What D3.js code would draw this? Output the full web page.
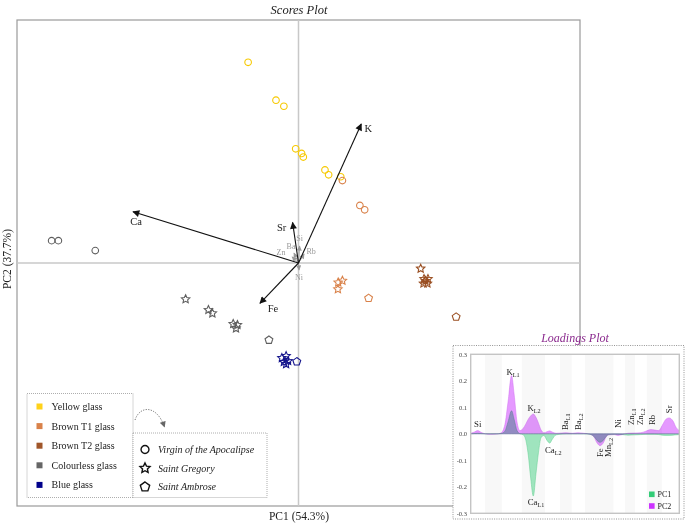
<!DOCTYPE html>
<html><head><meta charset="utf-8">
<script src="https://cdn.jsdelivr.net/npm/d3@7"></script>
<style>
body{margin:0;background:#fff;}
svg{display:block;font-family:"Liberation Serif","DejaVu Serif",serif;}
</style></head><body>
<svg id="c" width="685" height="523"></svg>
<script>
// ---------- DATA ----------
const glassTypes = ["Yellow glass","Brown T1 glass","Brown T2 glass","Colourless glass","Blue glass"];
const panels = ["Virgin of the Apocalipse","Saint Gregory","Saint Ambrose"];

// scores: glass type index, panel index, PC1, PC2
const scoreType  = [0,0,0,0,0,0,0,0,0, 1,1,1, 1,1,1, 1, 2,2,2,2,2,2, 2, 3,3,3, 3,3,3,3,3,3, 3, 4,4,4,4,4, 4];
const scorePanel = [0,0,0,0,0,0,0,0,0, 0,0,0, 1,1,1, 2, 1,1,1,1,1,1, 2, 0,0,0, 1,1,1,1,1,1, 2, 1,1,1,1,1, 2];
const scorePC1 = [-0.179,-0.080,-0.052,-0.010,0.011,0.017,0.094,0.107,0.150,
  0.156,0.218,0.235, 0.141,0.156,0.140, 0.249,
  0.434,0.446,0.460,0.444,0.458,0.451, 0.560,
  -0.877,-0.853,-0.722, -0.401,-0.320,-0.306,-0.232,-0.217,-0.222, -0.105,
  -0.059,-0.044,-0.052,-0.037,-0.044, -0.006];
const scorePC2 = [0.826,0.670,0.645,0.470,0.451,0.436,0.383,0.363,0.355,
  0.339,0.237,0.219, -0.080,-0.073,-0.108, -0.145,
  -0.023,-0.066,-0.066,-0.084,-0.084,-0.074, -0.222,
  0.092,0.092,0.051, -0.149,-0.193,-0.207,-0.251,-0.255,-0.269, -0.317,
  -0.391,-0.383,-0.407,-0.403,-0.416, -0.406];

// biplot loadings
const loadNames = ["Ca","K","Sr","Fe","Si","Ba","Rb","Zn","Ni"];
const loadPC1 = [-0.588,0.223,-0.021,-0.137,0.004,-0.016,0.020,-0.023,0.002];
const loadPC2 = [0.211,0.572,0.167,-0.166,0.070,0.041,0.037,0.025,-0.029];

// loadings spectrum (inset)
const channel = [0,1.6,3.4,4.9,6.9,9.3,12.6,14.5,16.4,17.9,19.6,20.8,22.2,23.6,25.1,26.3,27.6,28.8,30.0,31.3,32.5,33.7,35.1,36.6,37.9,39.0,40.9,43.8,45.7,48.6,51.4,54.3,57.2,59.1,60.6,62.0,63.5,64.9,66.3,68.7,70.6,72.6,75.4,78.7,81.6,84.0,86.4,88.3,90.2,91.7,93.6,95.1,97.0,98.4,100];
const specPC2 = [0.002,0.006,0.012,0.006,0.0,-0.002,-0.001,0.003,0.035,0.12,0.22,0.15,0.045,0.012,0.02,0.035,0.055,0.068,0.075,0.062,0.04,0.015,0.004,0.008,0.011,0.007,0.002,0.003,0.004,0.002,0.004,0.002,-0.002,-0.012,-0.035,-0.045,-0.035,-0.012,-0.004,-0.003,-0.006,-0.003,0.002,0.003,0.004,0.01,0.016,0.014,0.012,0.03,0.055,0.06,0.048,0.025,0.012];
const specPC1 = [0.0,0.001,0.002,0.001,0.0,0.0,0.0,0.001,0.01,0.045,0.087,0.055,0.012,0.0,-0.003,-0.02,-0.08,-0.17,-0.235,-0.15,-0.07,-0.015,-0.006,-0.025,-0.035,-0.022,-0.004,-0.001,0.0,0.0,0.0,0.0,-0.002,-0.01,-0.025,-0.032,-0.025,-0.01,-0.003,-0.002,-0.002,-0.003,-0.005,-0.004,-0.003,-0.002,-0.002,-0.002,-0.003,-0.005,-0.006,-0.006,-0.005,-0.004,-0.003];
const regionBounds = [0,6.9,14.9,24.5,35.6,42.8,48.4,54.8,68.4,74.0,78.8,84.4,91.6,100];
const yTicks = [-0.3,-0.2,-0.1,0.0,0.1,0.2,0.3];
// peak labels: element, line subscript, channel, anchor value, rotated
const peakEl  = ["Si","K","K","Ca","Ca","Ba","Ba","Fe","Mn","Ni","Zn","Zn","Rb","Sr"];
const peakSub = ["","L1","L2","L2","L1","L1","L2","","L2","","L1","L2","",""];
const peakCh  = [3.4,20.3,30.4,39.6,31.3,45.2,51.6,62.0,66.0,70.8,76.8,81.2,87.1,95.1];
const peakVal = [0.036,0.234,0.096,-0.061,-0.256,0.014,0.014,-0.088,-0.088,0.022,0.033,0.033,0.033,0.078];
const peakRot = [false,false,false,false,false,true,true,true,true,true,true,true,true,true];
const specLegend = ["PC1","PC2"];

// ---------- STYLE ----------
const typeColors = ["#f7c900","#d9824a","#9a4f22","#5f5f5f","#14148c"];
const legendColors = ["#ffd21a","#d9824a","#a0562a","#666666","#00008b"];
const labelOffset = {Ca:[3,10],K:[7,4],Sr:[-11,5],Fe:[13,5],Si:[0,-7],Ba:[-3,-7],Rb:[7,-3],Zn:[-11,-4],Ni:[0,7]};

const svg = d3.select("#c");

function starPath(R){
  const r = R*0.48, pts=[];
  for(let i=0;i<10;i++){const a=-Math.PI/2+i*Math.PI/5, rr=i%2?r:R; pts.push([rr*Math.cos(a),rr*Math.sin(a)]);}
  return "M"+pts.map(p=>p[0].toFixed(2)+","+p[1].toFixed(2)).join("L")+"Z";
}
function pentPath(R){
  const pts=[];
  for(let i=0;i<5;i++){const a=-Math.PI/2+i*2*Math.PI/5; pts.push([R*Math.cos(a),R*Math.sin(a)]);}
  return "M"+pts.map(p=>p[0].toFixed(2)+","+p[1].toFixed(2)).join("L")+"Z";
}
function circPath(R){ return `M${R},0A${R},${R} 0 1,1 ${-R},0A${R},${R} 0 1,1 ${R},0Z`; }
function shapePath(p, s){ return p===0?circPath(3.3*s):p===1?starPath(4.4*s):pentPath(4.1*s); }

// ---------- MARKERS ----------
const defs = svg.append("defs");
defs.append("marker").attr("id","ah").attr("viewBox","0 0 10 10").attr("refX",9).attr("refY",5)
  .attr("markerWidth",8).attr("markerHeight",7).attr("markerUnits","userSpaceOnUse").attr("orient","auto")
  .append("path").attr("d","M0,0L10,5L0,10Z").attr("fill","#111");
defs.append("marker").attr("id","ahg").attr("viewBox","0 0 10 10").attr("refX",9).attr("refY",5)
  .attr("markerWidth",6).attr("markerHeight",5).attr("markerUnits","userSpaceOnUse").attr("orient","auto")
  .append("path").attr("d","M0,0L10,5L0,10Z").attr("fill","#999");
defs.append("marker").attr("id","ahl").attr("viewBox","0 0 10 10").attr("refX",9).attr("refY",5)
  .attr("markerWidth",7).attr("markerHeight",6).attr("markerUnits","userSpaceOnUse").attr("orient","auto")
  .append("path").attr("d","M0,0L10,5L0,10Z").attr("fill","#666");

// ---------- SCORES PLOT ----------
const x = d3.scaleLinear().domain([-1,1]).range([17,580]);
const y = d3.scaleLinear().domain([-1,1]).range([506,20]);

svg.append("text").attr("x",299).attr("y",14).attr("text-anchor","middle")
  .attr("font-style","italic").attr("font-size",12.5).attr("fill","#222").text("Scores Plot");

svg.append("rect").attr("x",x(-1)).attr("y",y(1)).attr("width",x(1)-x(-1)).attr("height",y(-1)-y(1))
  .attr("fill","none").attr("stroke","#9a9a9a").attr("stroke-width",1.2);
svg.append("line").attr("x1",x(0)).attr("x2",x(0)).attr("y1",y(1)).attr("y2",y(-1)).attr("stroke","#c8c8c8").attr("stroke-width",1.5);
svg.append("line").attr("x1",x(-1)).attr("x2",x(1)).attr("y1",y(0)).attr("y2",y(0)).attr("stroke","#c8c8c8").attr("stroke-width",1.5);

svg.append("text").attr("x",299).attr("y",520).attr("text-anchor","middle").attr("font-size",11.5).attr("fill","#222").text("PC1 (54.3%)");
svg.append("text").attr("transform","translate(11,259) rotate(-90)").attr("text-anchor","middle").attr("font-size",11.5).attr("fill","#222").text("PC2 (37.7%)");

// scores
svg.append("g").selectAll("path").data(d3.range(scorePC1.length)).join("path")
  .attr("transform",i=>`translate(${x(scorePC1[i])},${y(scorePC2[i])})`)
  .attr("d",i=>shapePath(scorePanel[i],1))
  .attr("fill","none").attr("stroke",i=>typeColors[scoreType[i]]).attr("stroke-width",1.1);

// loadings arrows (minor first)
const lidx = d3.range(loadNames.length).map(i=>({i,len:Math.hypot(loadPC1[i],loadPC2[i])})).sort((a,b)=>a.len-b.len);
const ag = svg.append("g");
lidx.forEach(({i,len})=>{
  const major = len>0.1;
  ag.append("line").attr("x1",x(0)).attr("y1",y(0)).attr("x2",x(loadPC1[i])).attr("y2",y(loadPC2[i]))
    .attr("stroke",major?"#111":"#999").attr("stroke-width",major?1.1:0.9)
    .attr("marker-end",major?"url(#ah)":"url(#ahg)");
  const o = labelOffset[loadNames[i]];
  ag.append("text").attr("x",x(loadPC1[i])+o[0]).attr("y",y(loadPC2[i])+o[1])
    .attr("text-anchor","middle").attr("dominant-baseline","central")
    .attr("font-size",major?10.5:8).attr("fill",major?"#222":"#9a9a9a").text(loadNames[i]);
});

// ---------- LEGENDS ----------
const lg = svg.append("g");
lg.append("rect").attr("x",27).attr("y",393.5).attr("width",106).attr("height",104)
  .attr("fill","#fff").attr("stroke","#999").attr("stroke-dasharray","1,1").attr("stroke-width",0.8);
lg.append("rect").attr("x",133).attr("y",433).attr("width",134).attr("height",64.5)
  .attr("fill","#fff").attr("stroke","#999").attr("stroke-dasharray","1,1").attr("stroke-width",0.8);
glassTypes.forEach((t,k)=>{
  const yy = 406.5 + k*19.6;
  lg.append("rect").attr("x",36.5).attr("y",yy-3).attr("width",6).attr("height",6).attr("fill",legendColors[k]);
  lg.append("text").attr("x",51.5).attr("y",yy).attr("dominant-baseline","central").attr("font-size",10).attr("fill","#222").text(t);
});
panels.forEach((p,k)=>{
  const yy = 449.5 + k*18.7;
  lg.append("path").attr("transform",`translate(145,${yy})`).attr("d",shapePath(k,1.2))
    .attr("fill","none").attr("stroke","#111").attr("stroke-width",1.4);
  lg.append("text").attr("x",158).attr("y",yy).attr("dominant-baseline","central").attr("font-size",10)
    .attr("font-style","italic").attr("fill","#222").text(p);
});
lg.append("path").attr("d","M135,420 C140,405 157,405 164.5,427").attr("fill","none")
  .attr("stroke","#666").attr("stroke-width",0.9).attr("stroke-dasharray","1.2,1.4").attr("marker-end","url(#ahl)");

// ---------- LOADINGS INSET ----------
const ig = svg.append("g");
ig.append("rect").attr("x",453).attr("y",345.5).attr("width",231).attr("height",173.5)
  .attr("fill","#fff").attr("stroke","#888").attr("stroke-dasharray","1,1.3").attr("stroke-width",0.9);
ig.append("text").attr("x",575).attr("y",341.5).attr("text-anchor","middle").attr("font-style","italic")
  .attr("font-size",12).attr("fill","#8b2a8e").text("Loadings Plot");

const xi = d3.scaleLinear().domain([0,100]).range([470.7,679.3]);
const yi = d3.scaleLinear().domain([-0.3,0.3]).range([513.3,354.3]);

for(let k=1;k<regionBounds.length-1;k+=2){
  ig.append("rect").attr("x",xi(regionBounds[k])).attr("y",yi(0.3)).attr("width",xi(regionBounds[k+1])-xi(regionBounds[k]))
    .attr("height",yi(-0.3)-yi(0.3)).attr("fill","#f8f8f8");
}
const area1 = d3.area().x((d,i)=>xi(channel[i])).y0(yi(0)).y1(d=>yi(d)).curve(d3.curveMonotoneX);
ig.append("path").attr("d",area1(specPC1)).attr("fill","#33cc77").attr("fill-opacity",0.45)
  .attr("stroke","#5fcf8f").attr("stroke-width",0.5);
ig.append("path").attr("d",area1(specPC2)).attr("fill","#cc33ff").attr("fill-opacity",0.5)
  .attr("stroke","#d070f0").attr("stroke-width",0.5).style("mix-blend-mode","multiply");

ig.append("rect").attr("x",xi(0)).attr("y",yi(0.3)).attr("width",xi(100)-xi(0)).attr("height",yi(-0.3)-yi(0.3))
  .attr("fill","none").attr("stroke","#c4c4c4").attr("stroke-width",1.4);
yTicks.forEach(t=>{
  ig.append("text").attr("x",467).attr("y",yi(t)).attr("text-anchor","end").attr("dominant-baseline","central")
    .attr("font-size",6.5).attr("fill","#444").text((Math.abs(t)<1e-9?0:t).toFixed(1));
});

peakEl.forEach((el,k)=>{
  const px = xi(peakCh[k]), py = yi(peakVal[k]);
  let t;
  if(peakRot[k]){
    t = ig.append("text").attr("transform",`translate(${px+3},${py}) rotate(-90)`).attr("text-anchor","start");
  } else {
    t = ig.append("text").attr("x",px).attr("y",py).attr("text-anchor","middle").attr("dominant-baseline","central");
  }
  t.attr("font-size",8.8).attr("fill","#222");
  t.append("tspan").text(el);
  if(peakSub[k]) t.append("tspan").attr("font-size",6.2).attr("dy",2).text(peakSub[k]);
});

const specColors = ["#33cc77","#cc33ff"];
specLegend.forEach((s,k)=>{
  const yy = 494.3 + k*11.7;
  ig.append("rect").attr("x",649).attr("y",yy-2.8).attr("width",5.6).attr("height",5.6).attr("fill",specColors[k]);
  ig.append("text").attr("x",657.5).attr("y",yy).attr("dominant-baseline","central").attr("font-size",8).attr("fill","#222").text(s);
});
</script>
</body></html>
